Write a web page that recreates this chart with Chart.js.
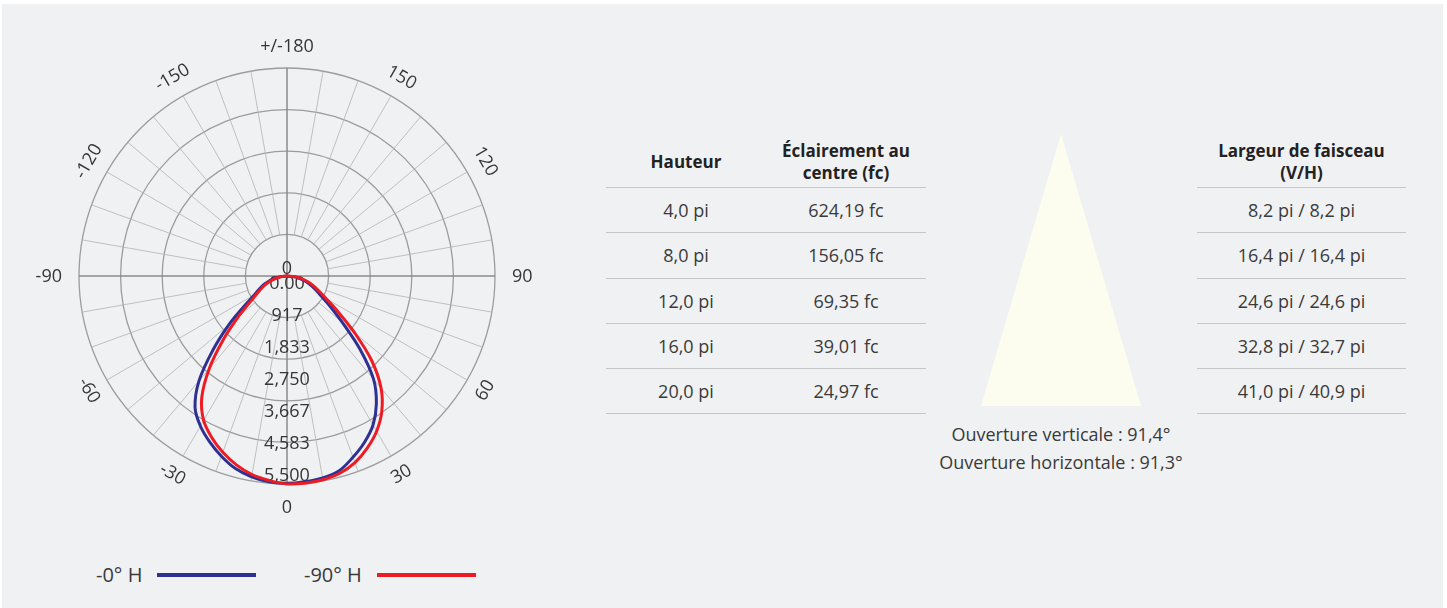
<!DOCTYPE html>
<html lang="fr">
<head>
<meta charset="utf-8">
<title>Courbe photométrique</title>
<script src="https://cdn.jsdelivr.net/npm/chart.js@4.4.1/dist/chart.umd.min.js"></script>
<style>
  html, body { margin: 0; padding: 0; background: #fff; }
  body { width: 1447px; height: 608px; position: relative; overflow: hidden; font-family: "Open Sans", sans-serif; color: #3a3a3a; }
  .panneau { position: absolute; left: 2px; top: 4px; width: 1441px; height: 604px; background: #f0f1f3; }
  .graph { position: absolute; left: 2px; top: 26px; width: 570px; height: 500px; }
  .legende { position: absolute; top: 562px; height: 26px; font-size: 20px; line-height: 26px; }
  .trait { position: absolute; top: 573px; height: 4px; width: 99px; }
  .entete, .ligne { position: absolute; display: flex; }
  .entete div { font-weight: 700; font-size: 17px; line-height: 22px; color: #222; text-align: center; }
  .ligne div { font-size: 18px; text-align: center; line-height: 45px; }
  .tri { position: absolute; left: 981px; top: 134px; width: 160px; height: 272px; background: #fdfdef; clip-path: polygon(50% 0, 100% 100%, 0 100%); }
  .ouv { position: absolute; left: 900px; width: 322px; text-align: center; font-size: 18px; }
</style>
</head>
<body>
<div class="panneau"></div>
<div class="graph"><canvas id="polaire"></canvas></div>

<div class="legende" style="left:96px">-0° H</div>
<div class="trait" style="left:157px; background:#2e3192"></div>
<div class="legende" style="left:304px">-90° H</div>
<div class="trait" style="left:377px; background:#ed1c24"></div>

<div id="tableau"></div>
<div class="tri"></div>
<div class="ouv" style="top:422px">Ouverture verticale : 91,4°</div>
<div class="ouv" style="top:450px">Ouverture horizontale : 91,3°</div>

<script>
// angles gamma (deg), 0 = vers le bas
const angles = [-90, -85, -80, -75, -70, -65, -60, -55, -50, -45, -40, -35, -30, -25, -20, -15, -10, -5,
  0, 5, 10, 15, 20, 25, 30, 35, 40, 45, 50, 55, 60, 65, 70, 75, 80, 85, 90]

// intensité (cd) plan 0° H
const plan0H = [0, 150, 305, 480, 640, 800, 1000, 1370, 2010, 2770, 3620, 4240, 4580, 4840, 5070, 5270, 5390, 5460,
  5480, 5460, 5420, 5330, 5100, 4850, 4550, 4120, 3560, 2720, 1909, 1383, 1030, 820, 640, 480, 305, 150, 0]

// intensité (cd) plan 90° H
const plan90H = [0, 75, 228, 392, 560, 720, 900, 1180, 1690, 2390, 3200, 3930, 4410, 4710, 4960, 5170, 5330, 5425,
  5500, 5500, 5470, 5400, 5250, 5020, 4740, 4370, 3870, 3170, 2330, 1646, 1200, 925, 730, 560, 392, 228, 0]

const valeursRayon = [0, 917, 1833, 2750, 3667, 4583, 5500]
const etiquettesRayon = ['0.00', '917', '1,833', '2,750', '3,667', '4,583', '5,500']

const hauteurs = ['4,0 pi', '8,0 pi', '12,0 pi', '16,0 pi', '20,0 pi']
const eclairements = ['624,19 fc', '156,05 fc', '69,35 fc', '39,01 fc', '24,97 fc']
const largeurs = ['8,2 pi / 8,2 pi', '16,4 pi / 16,4 pi', '24,6 pi / 24,6 pi', '32,8 pi / 32,7 pi', '41,0 pi / 40,9 pi']

// libellés du radar : tous les 5°, en partant du haut (180) dans le sens horaire
let libelles = []
for (let i = 0; i < 72; i++) {
  libelles[i] = 180 - i * 5
}

function donneesRadar(serie) {
  return libelles.map(a => {
    const k = angles.indexOf(a)
    return k >= 0 ? serie[k] : 0
  })
}

const decorPolaire = {
  id: 'decorPolaire',
  beforeDatasetsDraw(chart) {
    const ctx = chart.ctx
    const r = chart.scales.r
    const R = r.drawingArea
    const interieur = r.getDistanceFromCenterForValue(1100)
    ctx.save()

    // rayons tous les 10°
    libelles.forEach((a, i) => {
      if (a % 10 !== 0) return
      const majeur = a % 90 === 0
      const p1 = r.getPointPosition(i, majeur ? 0 : interieur)
      const p2 = r.getPointPosition(i, R)
      ctx.beginPath()
      ctx.moveTo(p1.x, p1.y)
      ctx.lineTo(p2.x, p2.y)
      ctx.strokeStyle = majeur ? '#8a8a8a' : '#b2b2b2'
      ctx.lineWidth = majeur ? 1.5 : 0.8
      ctx.stroke()
    })

    // étiquettes d'angle
    ctx.font = '18px "Open Sans"'
    ctx.fillStyle = '#363636'
    ctx.textBaseline = 'middle'
    libelles.forEach((a, i) => {
      if (a % 30 !== 0) return
      const texte = a === 180 ? '+/-180' : String(a)
      const phi = i * 5
      if (phi % 90 === 0) {
        if (phi === 90 || phi === 270) {
          const p = r.getPointPosition(i, R + 17)
          ctx.textAlign = phi === 90 ? 'left' : 'right'
          ctx.fillText(texte, p.x, p.y + 1)
        } else {
          const p = r.getPointPosition(i, R + (phi === 0 ? 21 : 24))
          ctx.textAlign = 'center'
          ctx.fillText(texte, p.x, p.y)
        }
        return
      }
      const p = r.getPointPosition(i, R + 21)
      let rot = phi < 90 || phi > 270 ? phi : phi - 180
      ctx.save()
      ctx.translate(p.x, p.y)
      ctx.rotate(rot * Math.PI / 180)
      ctx.textAlign = 'center'
      ctx.fillText(texte, 0, 0)
      ctx.restore()
    })

    // valeurs d'intensité sur l'axe 0
    ctx.textAlign = 'center'
    ctx.fillText('0', r.xCenter, r.yCenter - 7)
    valeursRayon.forEach((v, k) => {
      const d = r.getDistanceFromCenterForValue(v) * 0.926 + 7.5
      ctx.fillText(etiquettesRayon[k], r.xCenter, r.yCenter + d)
    })
    ctx.restore()
  }
}

new Chart(document.getElementById('polaire'), {
  type: 'radar',
  data: {
    labels: libelles,
    datasets: [{
      label: '-0° H',
      data: donneesRadar(plan0H),
      borderColor: '#2e3192',
      borderWidth: 3,
      pointRadius: 0,
      fill: false,
      tension: 0.35,
      order: 1
    }, {
      label: '-90° H',
      data: donneesRadar(plan90H),
      borderColor: '#ed1c24',
      borderWidth: 3,
      pointRadius: 0,
      fill: false,
      tension: 0.35,
      order: 0
    }]
  },
  options: {
    responsive: true,
    maintainAspectRatio: false,
    animation: false,
    layout: { padding: { left: 77, right: 77, top: 42, bottom: 42 } },
    plugins: { legend: { display: false }, tooltip: { enabled: false } },
    scales: {
      r: {
        min: 0,
        max: 5500,
        ticks: { stepSize: 1100, display: false },
        grid: { circular: true, color: '#9c9c9c', lineWidth: 1.3 },
        angleLines: { display: false },
        pointLabels: { display: false }
      }
    }
  },
  plugins: [decorPolaire]
})

// tableaux
const tableau = document.getElementById('tableau')
function colonnes(left, largeur, titres, lignes) {
  const lc = largeur / titres.length
  let html = `<div class="entete" style="left:${left}px; top:137px; width:${largeur}px; height:50px; align-items:center; border-bottom:1px solid #c6c6c6">`
  for (let t of titres) {
    html += `<div style="width:${lc}px">${t}</div>`
  }
  html += '</div>'
  for (let i = 0; i < lignes[0].length; i++) {
    html += `<div class="ligne" style="left:${left}px; top:${188 + i * 45.3}px; width:${largeur}px; height:44.3px; border-bottom:1px solid #c6c6c6">`
    for (let col of lignes) {
      html += `<div style="width:${lc}px">${col[i]}</div>`
    }
    html += '</div>'
  }
  return html
}
tableau.innerHTML = colonnes(606, 320, ['Hauteur', 'Éclairement au<br>centre (fc)'], [hauteurs, eclairements])
  + colonnes(1197, 209, ['Largeur de faisceau<br>(V/H)'], [largeurs])
</script>
</body>
</html>
